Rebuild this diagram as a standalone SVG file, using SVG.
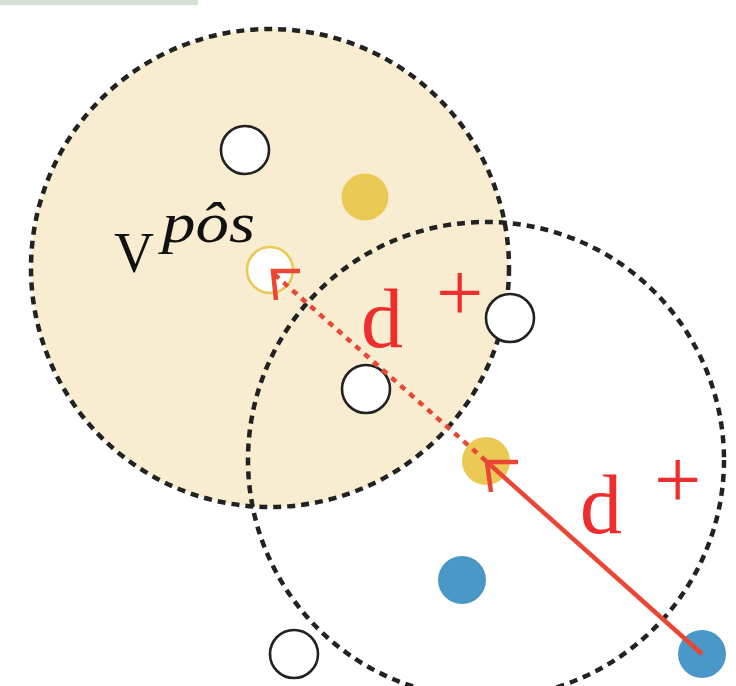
<svg xmlns="http://www.w3.org/2000/svg" width="736" height="686" viewBox="0 0 736 686">
<style>
.ring{fill:none;stroke:#222;stroke-width:4.5;stroke-dasharray:8 6}
.w{fill:#fff;stroke:#222;stroke-width:2.6}
.y{fill:#EACA55}
.b{fill:#4A98C8}
.arr{fill:none;stroke:#EB4534;stroke-width:4.5}
.dot{fill:none;stroke:#EB4534;stroke-width:4.5;stroke-dasharray:6 6}
.lbl{font-family:"Liberation Serif",serif;fill:#EE2E2E}
.v{font-family:"Liberation Serif",serif;fill:#111}
</style>
<rect x="0" y="0" width="198" height="5" fill="#D4E0D4"/>
<g id="region1">
<circle cx="270" cy="268" r="239" class="ring" style="fill:#F8EDD0"/>
</g>
<g id="region2">
<circle cx="486" cy="460" r="238" class="ring"/>
</g>
<g id="n1"><circle class="w" cx="245" cy="150" r="24"/></g>
<g id="n2"><circle class="y" cx="365" cy="197" r="23.5"/></g>
<g id="n3"><circle cx="270" cy="270" r="23" fill="#fff" stroke="#EACA55" stroke-width="2.6"/></g>
<g id="n4"><circle class="w" cx="510" cy="318" r="24"/></g>
<g id="n5"><circle class="w" cx="366" cy="389" r="24"/></g>
<g id="n6"><circle class="y" cx="486" cy="461" r="24"/></g>
<g id="n7"><circle class="b" cx="462" cy="580" r="24"/></g>
<g id="n8"><circle class="w" cx="294" cy="654" r="24"/></g>
<g id="n9"><circle class="b" cx="702" cy="654" r="24"/></g>
<g id="connectors">
<line class="dot" x1="486" y1="461" x2="274" y2="274"/>
<path class="arr" d="M300,271 L273,271 L276,300"/>
<line class="arr" x1="702" y1="654" x2="487" y2="462"/>
<path class="arr" d="M518,462 L487,462 L491,492"/>
</g>
<g id="labels">
<text class="v" x="114" y="272" font-size="58" textLength="40" lengthAdjust="spacingAndGlyphs">V</text>
<text class="v" x="162" y="242" font-size="58" font-style="italic" textLength="93" lengthAdjust="spacingAndGlyphs">pôs</text>
<text class="lbl" x="361" y="347" font-size="84">d</text>
<text class="lbl" x="436" y="321" font-size="84">+</text>
<text class="lbl" x="580" y="533" font-size="84">d</text>
<text class="lbl" x="654" y="508" font-size="84">+</text>
</g>
</svg>
